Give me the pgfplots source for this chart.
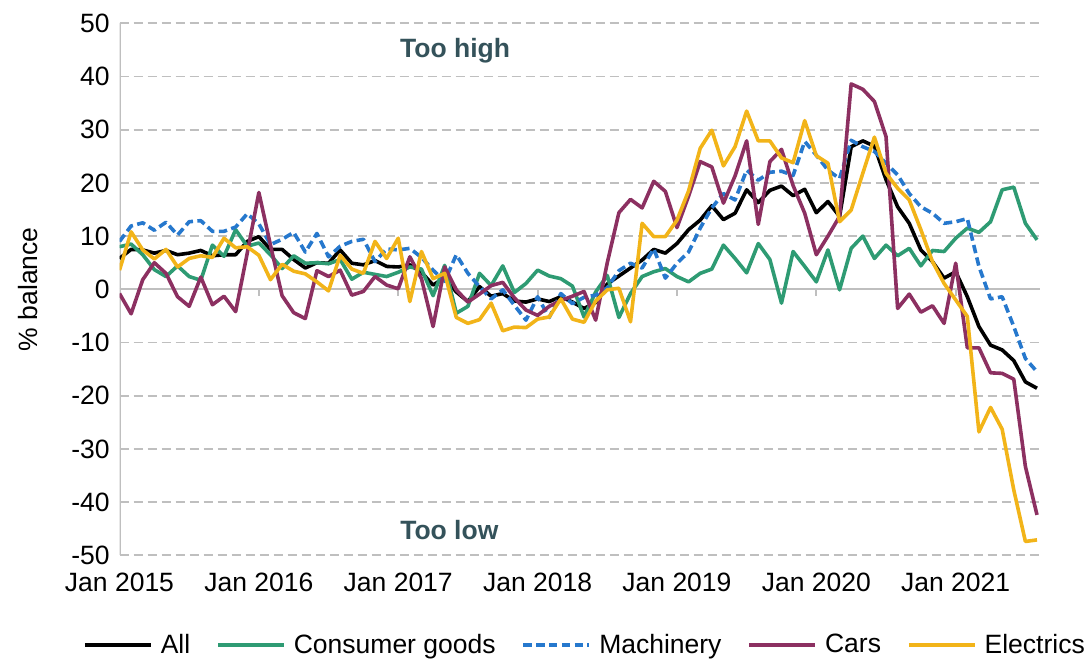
\documentclass[border=0pt]{standalone}
\usepackage{fontspec}
\setmainfont{Liberation Sans}
\usepackage{pgfplots}
\usepackage{pgfplotstable}
\pgfplotsset{compat=1.18}
\definecolor{cAll}{RGB}{0,0,0}
\definecolor{cCons}{RGB}{46,155,115}
\definecolor{cMach}{RGB}{38,120,205}
\definecolor{cCars}{RGB}{140,48,97}
\definecolor{cElec}{RGB}{242,180,25}
\definecolor{cTxt}{RGB}{52,82,90}
\definecolor{cGrid}{RGB}{191,191,191}
\newcommand\cfont{\fontsize{13.25}{15.9}\selectfont}

\pgfplotstableread{
i All Cons Mach Cars Elec
0 5.8 8.0 9.0 -0.8 3.6
1 7.5 8.5 11.9 -4.6 10.8
2 7.4 6.5 12.5 1.8 7.4
3 6.8 3.7 11.1 5.0 5.7
4 7.3 2.4 12.6 3.0 7.5
5 6.5 4.4 10.2 -1.4 4.2
6 6.8 2.4 12.7 -3.2 5.8
7 7.3 1.7 12.9 2.3 6.3
8 6.3 8.3 10.9 -2.9 6.0
9 6.5 6.2 10.9 -1.3 9.6
10 6.5 11.2 11.7 -4.2 7.8
11 9.0 8.1 14.2 6.8 8.0
12 9.9 8.7 12.3 18.2 6.4
13 7.5 6.5 8.4 8.3 1.8
14 7.5 3.9 9.4 -1.2 4.7
15 5.6 6.3 10.7 -4.4 3.4
16 4.0 4.9 7.0 -5.5 2.9
17 5.0 5.0 10.5 3.5 1.4
18 4.9 4.8 6.1 2.4 -0.3
19 7.4 5.6 8.1 3.6 6.4
20 4.9 1.9 9.0 -1.1 3.8
21 4.6 3.2 9.4 -0.4 3.0
22 5.4 2.8 5.2 2.4 9.0
23 4.3 2.4 7.6 0.8 5.8
24 4.2 3.2 7.4 0.1 9.6
25 4.6 4.2 7.7 6.1 -2.3
26 3.2 3.8 6.0 2.0 7.1
27 0.8 -1.2 3.6 -7.0 2.0
28 2.2 4.5 1.5 4.2 3.0
29 -0.5 -4.5 6.5 -0.1 -5.3
30 -2.3 -3.2 3.0 -2.4 -6.4
31 0.5 3.0 0.5 -0.9 -5.7
32 -1.3 0.7 -1.8 0.7 -2.6
33 -0.8 4.4 -0.1 1.3 -7.8
34 -2.2 -0.6 -3.0 -1.6 -7.1
35 -2.4 1.1 -5.8 -3.9 -7.2
36 -1.8 3.6 -1.4 -4.9 -5.6
37 -2.3 2.5 -5.3 -3.2 -5.2
38 -1.4 2.0 -0.8 -2.1 -1.8
39 -2.4 0.6 -2.7 -1.3 -5.6
40 -3.6 -5.2 -1.5 -0.4 -6.2
41 -2.5 -0.5 -1.1 -5.8 -2.2
42 1.0 2.6 0.3 5.0 -0.1
43 2.5 -5.3 3.5 14.4 0.2
44 4.0 -0.8 4.9 16.9 -6.1
45 5.5 2.4 4.0 15.3 12.4
46 7.5 3.3 7.6 20.3 9.9
47 6.8 3.9 2.1 18.4 9.9
48 8.6 2.4 4.9 11.6 13.0
49 11.2 1.4 7.0 17.5 18.5
50 13.0 3.0 11.5 24.0 26.5
51 15.7 3.8 15.3 23.0 29.9
52 13.1 8.3 18.0 16.2 23.2
53 14.3 5.8 16.8 21.3 26.8
54 18.7 3.1 22.4 27.9 33.5
55 16.3 8.6 20.5 12.2 27.9
56 18.6 5.6 22.0 24.0 27.9
57 19.4 -2.6 22.2 26.3 24.7
58 17.6 7.1 21.4 19.5 23.8
59 18.8 4.3 27.8 14.3 31.7
60 14.4 1.4 25.2 6.5 25.1
61 16.5 7.4 22.4 10.0 23.7
62 13.7 -0.1 20.8 13.7 12.7
63 26.8 7.7 28.0 38.6 14.9
64 27.9 10.0 26.8 37.6 21.8
65 26.9 5.8 25.9 35.3 28.6
66 20.6 8.3 23.7 28.7 21.8
67 15.5 6.3 21.5 -3.6 19.0
68 12.4 7.7 18.0 -0.9 16.8
69 7.4 4.4 15.5 -4.3 11.2
70 5.2 7.3 14.3 -3.1 5.2
71 2.1 7.1 12.4 -6.4 1.1
72 3.3 9.6 12.7 4.9 -2.0
73 -1.4 11.5 13.3 -11.0 -5.1
74 -7.0 10.7 4.3 -11.0 -26.8
75 -10.5 12.7 -1.8 -15.7 -22.2
76 -11.4 18.7 -1.4 -15.8 -26.3
77 -13.4 19.2 -7.0 -16.9 -37.7
78 -17.4 12.4 -13.0 -33.3 -47.4
79 -18.6 9.3 -15.5 -42.4 -47.1
}\datatable

\begin{document}
\begin{tikzpicture}
\begin{axis}[
  set layers,
  scale only axis, width=460.25pt, height=266pt,
  xmin=0, xmax=79.26, ymin=-50, ymax=50,
  axis line style={draw=none},
  tick style={draw=none},
  major tick length=0pt,
  xtick={0,12,24,36,48,60,72},
  xticklabels={Jan 2015,Jan 2016,Jan 2017,Jan 2018,Jan 2019,Jan 2020,Jan 2021},
  ytick={-50,-40,-30,-20,-10,0,10,20,30,40,50},
  yticklabels={-50,-40,-30,-20,-10,0,10,20,30,40,50},
  xticklabel style={font=\cfont, inner sep=0pt, anchor=north, yshift=-8.5pt},
  yticklabel style={font=\cfont, inner sep=0pt, anchor=east, xshift=-4.75pt},
  ymajorgrids,
  grid style={cGrid, dash pattern=on 4.5pt off 2.5pt, line width=0.9pt},
  ylabel={\% balance},
  ylabel style={font=\cfont, at={(axis description cs:-0.0994,0.5)}, anchor=center},
  legend columns=5,
  legend style={draw=none, fill=none, font=\cfont,
    at={(axis description cs:0.5046,-0.1686)}, anchor=center,
    inner sep=0pt, nodes={inner sep=0pt},
    /tikz/every odd column/.append style={column sep=4pt},
    /tikz/every even column/.append style={column sep=13pt}},
  legend image code/.code={\draw[#1] (0pt,0pt) -- (33pt,0pt);},
  legend cell align=left,
  every axis plot/.append style={line width=1.8pt, line join=round, no markers},
]
\draw[on layer=axis grid, cGrid, line width=1pt] (axis cs:0,0) -- (axis cs:79.26,0);
\draw[on layer=axis grid, cGrid, line width=1pt] (axis cs:0,-50) -- (axis cs:0,50);
\pgfplotsinvokeforeach{12,24,36,48,60,72}{
  \draw[on layer=axis grid, cGrid, line width=1pt] (axis cs:#1,0) -- ++(0pt,-3.5pt);
}
\addplot[cAll] table[x=i, y=All] {\datatable};
\addlegendentry{All}
\addplot[cCons] table[x=i, y=Cons] {\datatable};
\addlegendentry{Consumer goods}
\addplot[cMach, dash pattern=on 4.2pt off 2.2pt] table[x=i, y=Mach] {\datatable};
\addlegendentry{Machinery}
\addplot[cCars] table[x=i, y=Cars] {\datatable};
\addlegendentry{Cars}
\addplot[cElec] table[x=i, y=Elec] {\datatable};
\addlegendentry{Electrics}
\node[font=\bfseries\cfont, text=cTxt] at (axis cs:28.9,44.8) {Too high};
\node[font=\bfseries\cfont, text=cTxt] at (axis cs:28.4,-45.3) {Too low};
\end{axis}
\pgfresetboundingbox
\path (-59.75pt,-52.85pt) rectangle (482.75pt,277.65pt);
\end{tikzpicture}
\end{document}
